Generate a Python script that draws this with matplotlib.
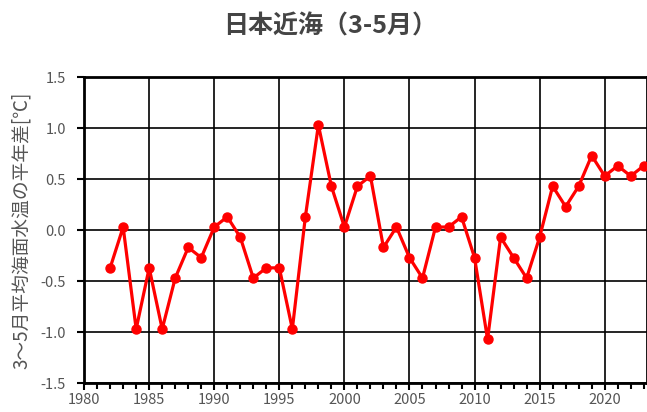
import matplotlib
matplotlib.use("Agg")
import matplotlib.pyplot as plt
from matplotlib.ticker import MultipleLocator

plt.rcParams['font.family'] = ['Noto Sans CJK JP', 'DejaVu Sans']

years = list(range(1982, 2024))
anomaly = [-0.37, 0.03, -0.97, -0.37, -0.97, -0.47, -0.17, -0.27, 0.03, 0.13,
           -0.07, -0.47, -0.37, -0.37, -0.97, 0.13, 1.03, 0.43, 0.03, 0.43,
           0.53, -0.17, 0.03, -0.27, -0.47, 0.03, 0.03, 0.13, -0.27, -1.07,
           -0.07, -0.27, -0.47, -0.07, 0.43, 0.23, 0.43, 0.73, 0.53, 0.63,
           0.53, 0.63]

title = "日本近海（3-5月）"
ylabel = "3～5月平均海面水温の平年差[℃]"
gray = "#555555"

fig = plt.figure(figsize=(6.47, 4.12), dpi=100)
ax = fig.add_axes([0.130, 0.070, 0.870, 0.743])

ax.plot(years, anomaly, color="red", lw=2.3, marker="o", ms=6.5, zorder=3)

ax.set_xlim(1980, 2023.25)
ax.set_ylim(-1.5, 1.5)
ax.xaxis.set_major_locator(MultipleLocator(5))
ax.xaxis.set_minor_locator(MultipleLocator(1))
ax.yaxis.set_major_locator(MultipleLocator(0.5))
ax.yaxis.set_major_formatter(plt.FuncFormatter(lambda v, p: f"{v:.1f}"))
ax.grid(True, which="major", color="black", lw=1.2)

for s in ax.spines.values():
    s.set_linewidth(2)
    s.set_color("black")

ax.tick_params(axis="both", which="major", direction="out", length=5, width=1.5,
               labelsize=10.5, labelcolor=gray, color="black")
ax.tick_params(axis="x", which="minor", direction="out", length=4, width=1.5)
ax.tick_params(axis="x", pad=2)
ax.tick_params(axis="y", pad=8)

ax.set_ylabel(ylabel, color=gray, fontsize=13.5, labelpad=6)
fig.text(0.51, 0.935, title, ha="center", va="center", fontsize=18,
         fontweight="bold", color="#444444")

fig.savefig("out.png", dpi=100)
